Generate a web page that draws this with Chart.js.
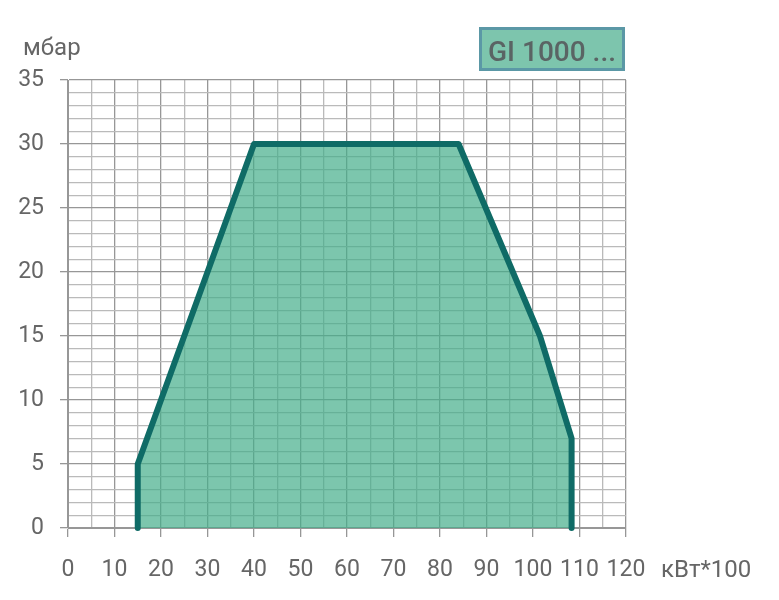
<!DOCTYPE html>
<html>
<head>
<meta charset="utf-8">
<script src="https://cdn.jsdelivr.net/npm/chart.js@4/dist/chart.umd.min.js"></script>
<style>
html,body{margin:0;padding:0;background:#fff;}
#wrap{position:relative;width:779px;height:600px;}
</style>
</head>
<body>
<div id="wrap"><canvas id="c" width="779" height="600"></canvas></div>
<script>
// Data
const powerX = [15, 15, 40, 84, 101.5, 108.3, 108.3];   // кВт*100
const pressureY = [0, 5, 30, 30, 15, 7, 0];              // мбар
const xTickLabels = [0, 10, 20, 30, 40, 50, 60, 70, 80, 90, 100, 110, 120];
const yTickLabels = [0, 5, 10, 15, 20, 25, 30, 35];
const yAxisTitle = 'мбар';
const xAxisTitle = 'кВт*100';
const boxTitle = 'GI 1000 ...';

const points = powerX.map((x, i) => ({x: x, y: pressureY[i]}));

const FONT = 'Roboto, "DejaVu Sans", sans-serif';
const MAJOR = '#979797';
const MINOR = '#bababa';

const overlay = {
  id: 'overlay',
  afterDraw(chart) {
    const ctx = chart.ctx;
    ctx.save();
    ctx.fillStyle = '#666';
    ctx.font = '24px ' + FONT;
    ctx.textAlign = 'left';
    ctx.textBaseline = 'alphabetic';
    ctx.fillText(yAxisTitle, 23, 55);
    ctx.fillText(xAxisTitle, 661, 577);
    // title box
    ctx.fillStyle = '#7dc5ad';
    ctx.fillRect(480, 28, 144, 42);
    ctx.strokeStyle = '#5b98a6';
    ctx.lineWidth = 3;
    ctx.strokeRect(480.5, 28.5, 143, 41);
    ctx.fillStyle = '#5a6464';
    ctx.font = '500 28px ' + FONT;
    ctx.textAlign = 'center';
    ctx.fillText(boxTitle, 552, 61);
    ctx.restore();
  }
};

new Chart(document.getElementById('c'), {
  type: 'scatter',
  data: {
    datasets: [{
      data: points,
      showLine: true,
      fill: 'origin',
      clip: false,
      backgroundColor: 'rgba(69,174,138,0.7)',
      borderColor: '#0f6b66',
      borderWidth: 6,
      borderCapStyle: 'round',
      borderJoinStyle: 'round',
      pointRadius: 0,
      pointHoverRadius: 0,
      tension: 0
    }]
  },
  options: {
    responsive: false,
    animation: false,
    events: [],
    layout: {padding: {left: 0, right: 153, top: 80, bottom: 0}},
    plugins: {legend: {display: false}, tooltip: {enabled: false}, title: {display: false}},
    scales: {
      x: {
        type: 'linear',
        min: 0, max: 120,
        afterFit(s) { s.height = 72; },
        border: {display: true, color: MAJOR, width: 1},
        grid: {
          color: c => (c.tick && c.tick.value % 10 === 0) ? MAJOR : MINOR,
          tickColor: c => (c.tick && c.tick.value % 10 === 0) ? MAJOR : 'rgba(0,0,0,0)',
          lineWidth: 1.3,
          tickLength: 9
        },
        ticks: {
          stepSize: 5,
          maxTicksLimit: 200,
          autoSkip: false,
          maxRotation: 0,
          padding: 19,
          color: '#666',
          font: {family: FONT, size: 23},
          callback: v => xTickLabels.includes(v) ? String(v) : ''
        }
      },
      y: {
        type: 'linear',
        min: 0, max: 35,
        afterFit(s) { s.width = 68; },
        border: {display: true, color: MAJOR, width: 1},
        grid: {
          color: c => (c.tick && c.tick.value % 5 === 0) ? MAJOR : MINOR,
          tickColor: c => (c.tick && c.tick.value % 5 === 0) ? MAJOR : 'rgba(0,0,0,0)',
          lineWidth: 1.3,
          tickLength: 8
        },
        ticks: {
          stepSize: 1,
          maxTicksLimit: 200,
          autoSkip: false,
          padding: 16,
          color: '#666',
          font: {family: FONT, size: 23},
          callback: v => yTickLabels.includes(v) ? String(v) : ''
        }
      }
    }
  },
  plugins: [overlay]
});
</script>
</body>
</html>
